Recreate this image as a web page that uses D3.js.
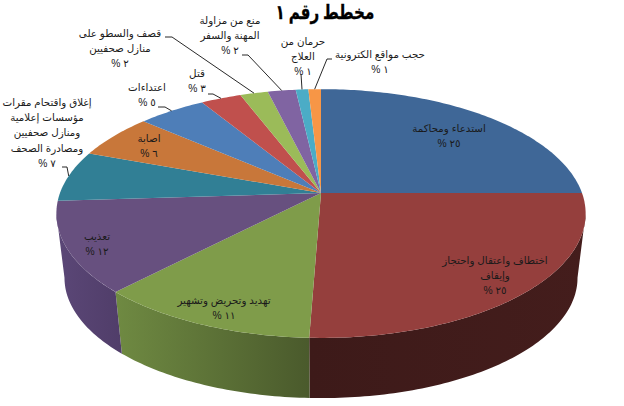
<!DOCTYPE html>
<html lang="ar">
<head>
<meta charset="utf-8">
<style>
  html, body { margin: 0; padding: 0; background: #fff; }
  svg { display: block; }
  .lbl { font-family: "Liberation Sans", "DejaVu Sans", sans-serif; font-size: 10.3px; fill: #1a1a1a; }
  .title { font-family: "Liberation Serif", "DejaVu Sans", serif; font-size: 20px; font-weight: bold; fill: #000; stroke: #000; stroke-width: 0.3px; }
</style>
<script src="https://cdn.jsdelivr.net/npm/d3@7"></script>
</head>
<body>
<div id="chart"></div>
<script>
const titleText = "مخطط رقم ١";

const categories = [
  ["استدعاء ومحاكمة"],
  ["اختطاف واعتقال واحتجاز", "وإيقاف"],
  ["تهديد وتحريض وتشهير"],
  ["تعذيب"],
  ["إغلاق واقتحام مقرات", "مؤسسات إعلامية", "ومنازل صحفيين", "ومصادرة الصحف"],
  ["اصابة"],
  ["اعتداءات"],
  ["قتل"],
  ["قصف والسطو على", "منازل صحفيين"],
  ["منع من مزاولة", "المهنة والسفر"],
  ["حرمان من", "العلاج"],
  ["حجب مواقع الكترونية"],
];
// printed (rounded) percentages
const percentLabels = ["٢٥", "٢٥", "١١", "١٢", "٧", "٦", "٥", "٣", "٢", "٢", "١", "١"];
// slice sizes
const values = [25, 25.6, 11.6, 11.8, 6.6, 5.8, 4.9, 2.9, 2, 2, 0.9, 0.9];

const topColors = ["#3f6797", "#953f3d", "#7f9c4a", "#67507f", "#317f95", "#c8773a",
                   "#4e7eb8", "#c0504d", "#9bbb59", "#8064a2", "#4bacc6", "#f79646"];
const sideColors = {
  1: ["#3d1a19", "#441d1c"],
  2: ["#6f8a42", "#4a5a2c"],
  3: ["#5b4777", "#503d69"],
};

// label centres, separate from the data
const labelPos = [
  [449, 128], [495, 260], [224, 300], [97, 236], [47, 102], [149, 138],
  [147, 87], [197, 73], [120, 33], [230, 20], [303, 41], [380, 54],
];
// leader lines start: [x of text side, y, x of elbow]
const leaders = {
  4: [62, 167, 67], 6: [158, 107, 165], 7: [208, 94, 213], 8: [165, 37, 172],
  9: [242, 55, 248], 10: [301, 74, 301], 11: [332, 59, 327],
};

const width = 624, height = 406;
const lineGap = 15.2;

const svg = d3.select("#chart").append("svg").attr("width", width).attr("height", height);

// tilted disc: circle points through a small perspective
const k = 0.165;
function project(angle, disc) {
  const u = Math.sin(angle), v = -Math.cos(angle), w = 1 - k * v;
  return [disc.cx + disc.a * u / w, disc.cy + disc.b * v / w];
}
const topDisc = { cx: 321, cy: 193, a: 261, b: 121 };
const baseDisc = { cx: 321, cy: 258, a: 253, b: 117 };

const pie = d3.pie().sort(null).value((d) => d);
const arcs = pie(values);
const line = d3.line();

function arcPoints(a0, a1, disc) {
  const n = Math.max(2, Math.ceil((a1 - a0) * 60));
  return d3.range(n + 1).map((i) => project(a0 + (a1 - a0) * i / n, disc));
}

const defs = svg.append("defs");
Object.keys(sideColors).forEach((i) => {
  const g = defs.append("linearGradient").attr("id", "side" + i);
  g.append("stop").attr("offset", 0).attr("stop-color", sideColors[i][0]);
  g.append("stop").attr("offset", 1).attr("stop-color", sideColors[i][1]);
});

// outer wall, only between the two silhouette points
const wallFrom = Math.acos(-k), wallTo = 2 * Math.PI - wallFrom;
svg.append("g").selectAll("path")
  .data(arcs.filter((d) => d.endAngle > wallFrom && d.startAngle < wallTo))
  .join("path")
  .attr("d", (d) => {
    const a0 = Math.max(d.startAngle, wallFrom), a1 = Math.min(d.endAngle, wallTo);
    return line(arcPoints(a0, a1, topDisc).concat(arcPoints(a0, a1, baseDisc).reverse())) + "Z";
  })
  .attr("fill", (d) => `url(#side${d.index})`);

// top face
svg.append("g").selectAll("path")
  .data(arcs)
  .join("path")
  .attr("d", (d) => line([[topDisc.cx, topDisc.cy]].concat(arcPoints(d.startAngle, d.endAngle, topDisc))) + "Z")
  .attr("fill", (d) => topColors[d.index]);

// leader lines
svg.append("g").selectAll("path")
  .data(arcs.filter((d) => leaders[d.index]))
  .join("path")
  .attr("d", (d) => {
    const l = leaders[d.index];
    return line([[l[0], l[1]], [l[2], l[1]], project((d.startAngle + d.endAngle) / 2, topDisc)]);
  })
  .attr("fill", "none")
  .attr("stroke", "#111")
  .attr("stroke-width", 0.9);

// labels
const labels = svg.append("g").selectAll("text")
  .data(categories.map((c, i) => c.concat(percentLabels[i] + " %")))
  .join("text")
  .attr("class", "lbl")
  .attr("direction", "rtl")
  .attr("text-anchor", "middle");
labels.each(function (d, i) {
  d3.select(this).selectAll("tspan")
    .data(d)
    .join("tspan")
    .attr("x", labelPos[i][0])
    .attr("y", (t, j) => labelPos[i][1] + 4 + j * lineGap)
    .text((t) => t);
});

svg.append("text")
  .attr("class", "title")
  .attr("transform", "translate(325,19) scale(0.76,1)")
  .attr("direction", "rtl")
  .attr("text-anchor", "middle")
  .text(titleText);
</script>
</body>
</html>
